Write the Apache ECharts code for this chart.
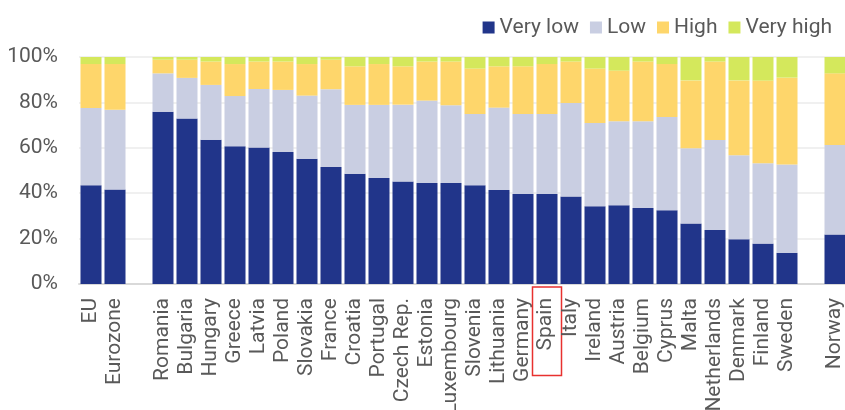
<!DOCTYPE html>
<html>
<head>
<meta charset="utf-8">
<script src="https://cdn.jsdelivr.net/npm/echarts@6/dist/echarts.min.js"></script>
<style>
html,body{margin:0;padding:0;background:#fff;}
#c{width:845px;height:410px;}
</style>
</head>
<body>
<div id="c"></div>
<script>
var categories = ['EU','Eurozone',' ','Romania','Bulgaria','Hungary','Greece','Latvia','Poland','Slovakia','France','Croatia','Portugal','Czech Rep.','Estonia','Luxembourg','Slovenia','Lithuania','Germany','Spain','Italy','Ireland','Austria','Belgium','Cyprus','Malta','Netherlands','Denmark','Finland','Sweden','  ','Norway'];
var veryLow  = [43.5,41.6,null,75.9,72.9,63.6,60.7,60.1,58.2,55.2,51.5,48.6,46.7,45.1,44.5,44.5,43.5,41.4,39.7,39.7,38.6,34.2,34.7,33.5,32.5,26.6,23.8,19.7,17.8,13.7,null,21.8];
var low      = [34.0,35.2,null,16.9,17.9,24.1,22.1,25.8,27.3,27.8,34.3,30.3,32.2,33.9,36.3,34.2,31.4,36.3,35.2,35.2,41.1,36.7,37.0,38.2,41.1,33.2,39.6,37.0,35.4,38.9,null,39.4];
var high     = [19.4,20.1,null,6.0,8.0,10.3,14.1,12.1,12.5,13.9,13.0,17.0,18.0,16.9,17.2,19.3,20.0,18.2,21.0,22.0,18.3,24.0,22.3,26.3,23.3,29.9,34.6,33.0,36.4,38.3,null,31.6];
var veryHigh = [3.1,3.1,null,1.2,1.2,2.0,3.1,2.0,2.0,3.1,1.2,4.1,3.1,4.1,2.0,2.0,5.1,4.1,4.1,3.1,2.0,5.1,6.0,2.0,3.1,10.3,2.0,10.3,10.4,9.1,null,7.2];
var highlighted = 'Spain';
var yTicks = [0,20,40,60,80,100];

var chart = echarts.init(document.getElementById('c'), null, {renderer:'canvas'});
var font = 'Roboto, "Liberation Sans", Arial, sans-serif';
var grey = '#595959';
var fs = 21;
function mk(name, data, color){
  return {name:name, type:'bar', stack:'total', data:data, barWidth:21,
    itemStyle:{color:color}, emphasis:{disabled:true}};
}
chart.setOption({
  animation:false,
  textStyle:{fontFamily:font},
  legend:{
    right:8, top:12, icon:'rect', itemWidth:12, itemHeight:12, itemGap:11,
    textStyle:{fontSize:fs, color:grey, fontFamily:font},
    data:['Very low','Low','High','Very high']
  },
  grid:{left:79, right:-2, top:57, bottom:126, containLabel:false, outerBoundsMode:'none'},
  xAxis:{
    type:'category', data:categories,
    axisLine:{show:true, lineStyle:{color:'#d9d9d9', width:2}},
    axisTick:{show:false},
    axisLabel:{
      interval:0, rotate:90, margin:3, fontSize:fs, color:grey, fontFamily:font,
      formatter:function(v){ return v===highlighted ? '{hl|'+v+'}' : '{n|'+v+'}'; },
      rich:{
        n:{fontSize:fs, color:grey, fontFamily:font, padding:[0,11,0,0]},
        hl:{fontSize:fs, color:grey, fontFamily:font, padding:[3,11,5,25], borderColor:'#e8312f', borderWidth:1.5}
      }
    }
  },
  yAxis:{
    type:'value', min:yTicks[0], max:yTicks[yTicks.length-1], interval:20,
    axisLine:{show:false}, axisTick:{show:false},
    axisLabel:{formatter:'{value}%', fontSize:fs, color:grey, margin:21, fontFamily:font},
    splitLine:{lineStyle:{color:'#ebebeb', width:1.5}}
  },
  series:[
    mk('Very low', veryLow, '#21358A'),
    mk('Low', low, '#C9CEE2'),
    mk('High', high, '#FED66B'),
    mk('Very high', veryHigh, '#D4E85C')
  ]
});
</script>
</body>
</html>
